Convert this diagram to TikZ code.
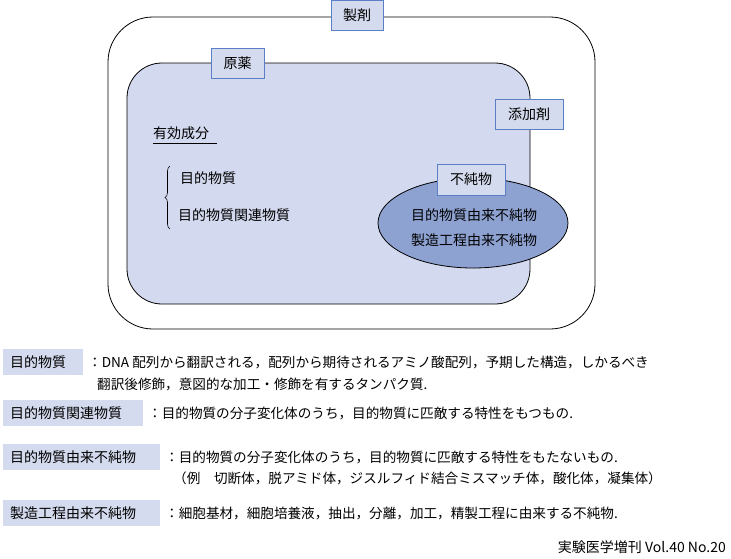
\documentclass[tikz,border=0pt]{standalone}
\usepackage{fontspec}
\setmainfont{Noto Sans CJK JP}
\usetikzlibrary{decorations.pathreplacing,shapes.geometric}
\definecolor{lb}{HTML}{D3D9EE}
\definecolor{bb}{HTML}{5B7FC4}
\definecolor{ef}{HTML}{8EA2D2}
\definecolor{kb}{HTML}{D5DBEE}
\newcommand{\keytext}[2]{\makebox[#1pt][l]{\hspace{7pt}#2}}
\begin{document}
\begin{tikzpicture}[x=1pt,y=-1pt,font=\fontsize{14}{16}\selectfont,
  lbl/.style={draw=bb,fill=kb,line width=0.8pt,minimum height=30,inner sep=0pt},
  key/.style={fill=kb,anchor=west,minimum height=26,inner sep=0pt},
  desc/.style={anchor=west,inner sep=0pt,align=left,font=\fontsize{13.6}{16}\selectfont}]
\useasboundingbox (0,0) rectangle (731,558);
\draw[line width=0.8pt,rounded corners=45] (108,17) rectangle (595,329);
\draw[line width=0.8pt,fill=lb,rounded corners=35] (127,63) rectangle (530,304);
\node[lbl,minimum width=52] (seizai) at (357,15.5) {製剤};
\node[lbl,minimum width=53] (genyaku) at (237.5,63) {原薬};
\node[lbl,minimum width=68] (tenka) at (529,114) {添加剤};
\node[draw,line width=0.8pt,fill=ef,ellipse,minimum width=190,minimum height=90,inner sep=0pt] (imp) at (473,223) {};
\node[lbl,minimum width=68,minimum height=31] (fujun) at (471,179.5) {不純物};
\node (imp1) at (474,215) {目的物質由来不純物};
\node (imp2) at (474,240) {製造工程由来不純物};
\node[anchor=west,inner sep=0pt] (yuko) at (153,133) {有効成分};
\draw[line width=0.4pt] (153,143) -- (217,143);
\draw[line width=0.6pt,decorate,decoration={brace,amplitude=5}] (170,229) -- (170,166);
\node[anchor=west,inner sep=0pt] (m1) at (180,178) {目的物質};
\node[anchor=west,inner sep=0pt] (m2) at (178,215) {目的物質関連物質};
% legend
\node[key] (k1) at (3,362) {\keytext{80}{目的物質}};
\node[desc] (d1) at (88,362) {：DNA 配列から翻訳される，配列から期待されるアミノ酸配列，予期した構造，しかるべき};
\node[desc] (d1b) at (97,384) {翻訳後修飾，意図的な加工・修飾を有するタンパク質.};
\node[key] (k2) at (3,413) {\keytext{140}{目的物質関連物質}};
\node[desc] (d2) at (148,413) {：目的物質の分子変化体のうち，目的物質に匹敵する特性をもつもの.};
\node[key] (k3) at (3,457) {\keytext{157}{目的物質由来不純物}};
\node[desc] (d3) at (165,457) {：目的物質の分子変化体のうち，目的物質に匹敵する特性をもたないもの.};
\node[desc] (d3b) at (173,478) {（例　切断体，脱アミド体，ジスルフィド結合ミスマッチ体，酸化体，凝集体）};
\node[key] (k4) at (3,513) {\keytext{157}{製造工程由来不純物}};
\node[desc] (d4) at (165,513) {：細胞基材，細胞培養液，抽出，分離，加工，精製工程に由来する不純物.};
\node[anchor=east,inner sep=0pt] (src) at (726,547) {実験医学増刊 Vol.40 No.20};
\end{tikzpicture}
\end{document}
